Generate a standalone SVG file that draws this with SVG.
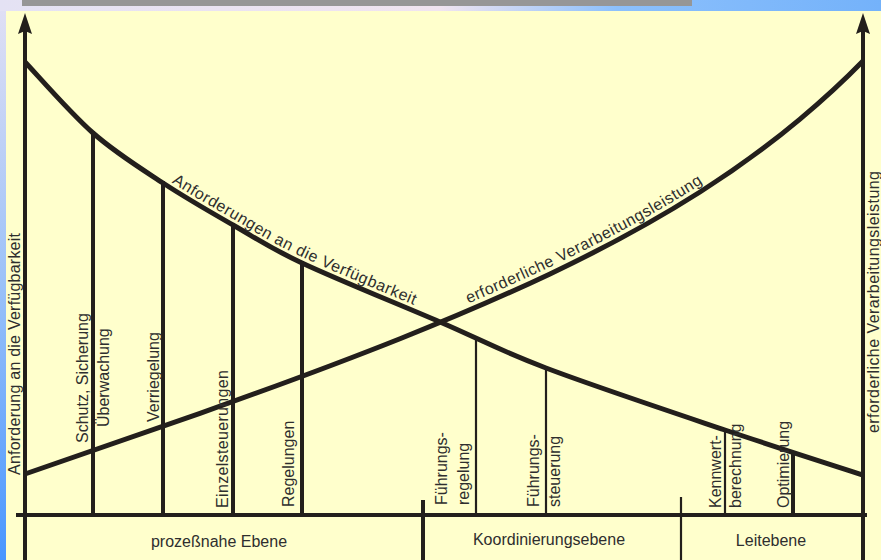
<svg xmlns="http://www.w3.org/2000/svg" width="881" height="560" viewBox="0 0 881 560">
<style>
.ln{stroke:#231f1c;fill:none;stroke-linecap:butt}
.thick{stroke-width:4}
.thin{stroke-width:2.2}
.curve{stroke-width:5;stroke-linejoin:round}
.head{fill:#231f1c}
.t{font-family:"Liberation Sans",Arial,sans-serif;font-size:16px;fill:#2e2e2e}
.c{text-anchor:middle}
</style>
<defs>
<linearGradient id="gl" x1="0" y1="0" x2="0" y2="1">
<stop offset="0" stop-color="#e2e0f4"/>
<stop offset="0.5" stop-color="#9cc2f8"/>
<stop offset="1" stop-color="#4896ff"/>
</linearGradient>
<linearGradient id="gt" x1="0" y1="0" x2="1" y2="0">
<stop offset="0" stop-color="#e4e2f4"/>
<stop offset="0.5" stop-color="#f0e4f0"/>
<stop offset="0.7" stop-color="#8cc0fc"/>
<stop offset="1" stop-color="#74b2fa"/>
</linearGradient>
<path id="pA" d="M163,177 C186.3,192.3 209.8,205.7 233,219 C256.2,232.3 267.5,240.8 302,257 C336.5,273.2 399.3,298.5 440,316"/>
<path id="pB" d="M400,331.7 C450,311.8 500,290.6 550,266.9 C600,243.2 650,216.8 700,185 C733.3,163.8 766.7,140 800,112.1"/>
</defs>
<g id="background">
<rect x="0" y="0" width="881" height="560" fill="url(#gl)"/>
<rect x="0" y="0" width="881" height="11" fill="url(#gt)"/>
<rect x="22" y="0" width="670" height="6" fill="#969696"/>
<rect x="6" y="11" width="875" height="549" fill="#ffffcc"/>
</g>
<g id="connectors">
<line id="axis-left" class="ln thick" x1="25" y1="560" x2="25" y2="30"/>
<polygon class="head" points="25,13 32,34 25,31 18,34"/>
<line id="axis-right" class="ln thick" x1="863" y1="560" x2="863" y2="30"/>
<polygon class="head" points="863,13 870,34 863,31 856,34"/>
<line id="baseline" class="ln thick" x1="16" y1="515" x2="867" y2="515"/>
<line class="ln thick" x1="423" y1="500" x2="423" y2="560"/>
<line class="ln thin" x1="681" y1="497" x2="681" y2="560"/>
<line class="ln thick" x1="93" y1="131" x2="93" y2="515"/>
<line class="ln thick" x1="163" y1="181" x2="163" y2="515"/>
<line class="ln thick" x1="233" y1="223" x2="233" y2="515"/>
<line class="ln thick" x1="302" y1="261" x2="302" y2="515"/>
<line class="ln thin" x1="476" y1="337" x2="476" y2="515"/>
<line class="ln thin" x1="546" y1="366" x2="546" y2="515"/>
<line class="ln thin" x1="725" y1="428" x2="725" y2="515"/>
<line class="ln thick" x1="793" y1="451" x2="793" y2="515"/>
<path id="curve-availability" class="ln curve" d="M25,62 C36.3,73.8 70,112.8 93,133 C116,153.2 139.7,167.7 163,183 C186.3,198.3 209.8,211.7 233,225 C256.2,238.3 267.5,246.8 302,263 C336.5,279.2 399.3,304.5 440,322 C480.7,339.5 498.5,350 546,368 C593.5,386 672.2,412.2 725,430 C777.8,447.8 840,467.5 863,475"/>
<path id="curve-processing" class="ln curve" d="M25,474 C83.3,454.1 141.7,434 200,413.3 C266.7,389.6 333.3,365.3 400,338.7 C450,318.8 500,297.6 550,273.9 C600,250.2 650,223.8 700,192 C733.3,170.8 766.7,147 800,119.1 C821,101.5 842,82.6 863,61"/>
</g>
<g id="label-curve-availability"><text class="t"><textPath href="#pA" startOffset="10" textLength="272" lengthAdjust="spacing">Anforderungen an die Verfügbarkeit</textPath></text></g>
<g id="label-curve-processing"><text class="t"><textPath href="#pB" startOffset="74" textLength="264" lengthAdjust="spacing">erforderliche Verarbeitungsleistung</textPath></text></g>
<g id="label-axis-left"><text class="t" transform="translate(20,475) rotate(-90)" textLength="242" lengthAdjust="spacing">Anforderung an die Verfügbarkeit</text></g>
<g id="label-axis-right"><text class="t" transform="translate(879,433) rotate(-90)" textLength="262" lengthAdjust="spacing">erforderliche Verarbeitungsleistung</text></g>
<g id="node-schutz"><text class="t" transform="translate(88,443) rotate(-90)">Schutz, Sicherung</text></g>
<g id="node-ueberwachung"><text class="t" transform="translate(109,427) rotate(-90)">Überwachung</text></g>
<g id="node-verriegelung"><text class="t" transform="translate(158.5,422) rotate(-90)">Verriegelung</text></g>
<g id="node-einzelsteuerungen"><text class="t" transform="translate(228,508) rotate(-90)" textLength="138" lengthAdjust="spacing">Einzelsteuerungen</text></g>
<g id="node-regelungen"><text class="t" transform="translate(294,507) rotate(-90)">Regelungen</text></g>
<g id="node-fuehrungsregelung"><text class="t" transform="translate(447,505) rotate(-90)">Führungs-</text><text class="t" transform="translate(469,505) rotate(-90)">regelung</text></g>
<g id="node-fuehrungssteuerung"><text class="t" transform="translate(539,507) rotate(-90)">Führungs-</text><text class="t" transform="translate(559.5,507) rotate(-90)">steuerung</text></g>
<g id="node-kennwertberechnung"><text class="t" transform="translate(721,508) rotate(-90)">Kennwert-</text><text class="t" transform="translate(740.5,508) rotate(-90)">berechnung</text></g>
<g id="node-optimierung"><text class="t" transform="translate(789,508) rotate(-90)">Optimierung</text></g>
<g id="level-prozess"><text class="t c" x="219" y="547">prozeßnahe Ebene</text></g>
<g id="level-koordinierung"><text class="t c" x="549" y="545">Koordinierungsebene</text></g>
<g id="level-leit"><text class="t c" x="771" y="546">Leitebene</text></g>
</svg>
